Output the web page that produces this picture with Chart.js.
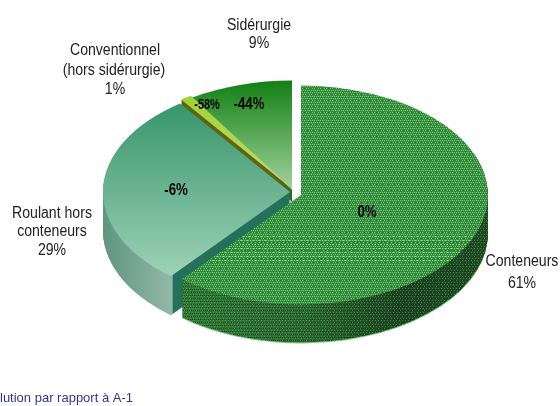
<!DOCTYPE html>
<html lang="fr">
<head>
<meta charset="utf-8">
<title>Trafic</title>
<script src="https://cdn.jsdelivr.net/npm/chart.js@4"></script>
<style>
  html, body { margin: 0; background: #fff; }
  canvas { display: block; }
</style>
</head>
<body>
<canvas id="pieChart" width="560" height="406"></canvas>
<script>
const categories = ['Conteneurs', 'Roulant hors conteneurs', 'Conventionnel (hors sidérurgie)', 'Sidérurgie'];
const shares = [61, 29, 1, 9];
const evolutions = ['0%', '-6%', '-58%', '-44%'];
const footnote = 'lution par rapport à A-1';

const squash = 0.585;
// where each slice sits once exploded and how deep its side is
const sliceCenters = [[301, 195], [290, 192], [291, 188], [292, 190]];
const depths = [38, 39, 6, 12];

// every fill is a page sized texture, so it stays put while the layers move
function makeTexture(paint) {
  const c = document.createElement('canvas');
  c.width = 560;
  c.height = 406;
  paint(c.getContext('2d'));
  return c;
}

function gradientRect(g, x0, y0, x1, y1, stops) {
  const grad = g.createLinearGradient(x0, y0, x1, y1);
  stops.forEach(([at, color]) => grad.addColorStop(at, color));
  g.fillStyle = grad;
  g.fillRect(0, 0, 560, 406);
}

function dots(g, color, stepX, stepY, yFrom, yTo) {
  g.fillStyle = color;
  for (let y = yFrom, row = 0; y < yTo; y += stepY, row++) {
    for (let x = row % 2; x < 560; x += stepX) g.fillRect(x, y, 1, 1);
  }
}

const textures = {
  contTop: makeTexture(g => {
    g.fillStyle = '#348f3d';
    g.fillRect(0, 0, 560, 406);
    dots(g, '#82c083', 2, 2, 0, 406);
    dots(g, '#1f7d2a', 3, 3, 1, 406);
    // paler woven band across the middle
    dots(g, '#9fd09f', 3, 4, 236, 262);
    dots(g, '#118a1c', 4, 4, 238, 262);
  }),
  contWall: makeTexture(g => {
    gradientRect(g, 188, 0, 489, 0, [[0, '#2f7a36'], [0.4, '#2a6a30'], [0.7, '#1a4420'], [1, '#1e4d24']]);
    dots(g, 'rgba(110,170,110,0.55)', 3, 2, 0, 406);
    dots(g, 'rgba(5,35,10,0.6)', 2, 3, 1, 406);
  }),
  contEdge: makeTexture(g => { g.fillStyle = '#7ecb7e'; g.fillRect(0, 0, 560, 406); }),
  roulTop: makeTexture(g => gradientRect(g, 0, 105, 0, 280, [[0, '#38966c'], [1, '#a0d3b8']])),
  roulWall: makeTexture(g => gradientRect(g, 103, 0, 290, 0, [[0, '#5f9480'], [0.37, '#93b8a9'], [0.375, '#24705a'], [1, '#24705a']])),
  convTop: makeTexture(g => gradientRect(g, 0, 95, 0, 190, [[0, '#9fd132'], [1, '#c2e070']])),
  convWall: makeTexture(g => { g.fillStyle = '#5c650f'; g.fillRect(0, 0, 560, 406); }),
  sidTop: makeTexture(g => gradientRect(g, 0, 80, 0, 190, [[0, '#128012'], [1, '#a3d29f']])),
  sidWall: makeTexture(g => { g.fillStyle = '#2d6a1d'; g.fillRect(0, 0, 560, 406); })
};

const sliceFills = [
  { top: textures.contTop, wall: textures.contWall, edge: textures.contEdge },
  { top: textures.roulTop, wall: textures.roulWall },
  { top: textures.convTop, wall: textures.convWall },
  { top: textures.sidTop, wall: textures.sidWall }
];

function drawSlice(ctx, el, i, drop, texture) {
  const [cx, cy] = sliceCenters[i];
  ctx.save();
  ctx.translate(cx, cy + drop);
  ctx.scale(1, squash);
  ctx.translate(-el.x, -el.y);
  const pattern = ctx.createPattern(texture, 'no-repeat');
  pattern.setTransform(ctx.getTransform().inverse());
  const saved = el.options;
  el.options = Object.assign({}, saved, { backgroundColor: pattern });
  el.draw(ctx);
  el.options = saved;
  ctx.restore();
}

// the reference text is squeezed sideways, there is no narrow font to use
function squeezedText(ctx, text, x, y, squeeze) {
  ctx.save();
  ctx.translate(x, y);
  ctx.scale(squeeze, 1);
  ctx.fillText(text, 0, 0);
  ctx.restore();
}

const pie3d = {
  id: 'pie3d',
  beforeDatasetsDraw(chart) {
    const ctx = chart.ctx;
    const arcs = chart.getDatasetMeta(0).data;
    // back slices first, front slice last
    [3, 2, 1, 0].forEach(i => {
      const fills = sliceFills[i];
      if (fills.edge) drawSlice(ctx, arcs[i], i, depths[i] + 1, fills.edge);
      for (let d = depths[i]; d > 0; d--) drawSlice(ctx, arcs[i], i, d, fills.wall);
      drawSlice(ctx, arcs[i], i, 0, fills.top);
    });
    return false;
  },
  afterDraw(chart) {
    const ctx = chart.ctx;
    ctx.save();
    ctx.textAlign = 'center';
    ctx.textBaseline = 'middle';

    ctx.fillStyle = '#222';
    ctx.font = '16px "Liberation Sans", Arial';
    squeezedText(ctx, 'Sidérurgie', 259, 26, 0.88);
    squeezedText(ctx, shares[3] + '%', 259, 44, 0.88);
    squeezedText(ctx, 'Conventionnel', 115, 51, 0.88);
    squeezedText(ctx, '(hors sidérurgie)', 114, 71, 0.88);
    squeezedText(ctx, shares[2] + '%', 115, 90, 0.88);
    squeezedText(ctx, 'Roulant hors', 52, 214, 0.88);
    squeezedText(ctx, 'conteneurs', 52, 232, 0.88);
    squeezedText(ctx, shares[1] + '%', 52, 251, 0.88);
    squeezedText(ctx, 'Conteneurs', 522, 262, 0.88);
    squeezedText(ctx, shares[0] + '%', 522, 284, 0.88);

    ctx.fillStyle = '#000';
    ctx.font = 'bold 17px "Liberation Sans", Arial';
    squeezedText(ctx, evolutions[0], 367, 212, 0.78);
    squeezedText(ctx, evolutions[1], 176, 190, 0.78);
    squeezedText(ctx, evolutions[3], 249, 104, 0.78);
    ctx.font = 'bold 14px "Liberation Sans", Arial';
    squeezedText(ctx, evolutions[2], 207, 105, 0.78);

    ctx.textAlign = 'left';
    ctx.fillStyle = '#33339c';
    ctx.font = '13px "Liberation Sans", Arial';
    ctx.fillText(footnote, 0, 398);
    ctx.restore();
  }
};

new Chart(document.getElementById('pieChart'), {
  type: 'pie',
  plugins: [pie3d],
  data: {
    labels: categories,
    datasets: [{
      data: shares,
      backgroundColor: '#2f8c39',
      borderWidth: 0,
      hoverOffset: 0
    }]
  },
  options: {
    responsive: false,
    animation: false,
    radius: 187,
    events: [],
    plugins: {
      legend: { display: false },
      tooltip: { enabled: false }
    }
  }
});
</script>
</body>
</html>
